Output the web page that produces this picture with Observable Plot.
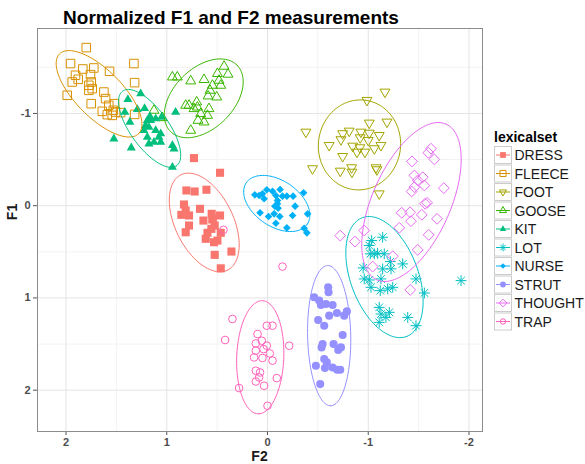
<!DOCTYPE html>
<html><head><meta charset="utf-8">
<script src="https://cdn.jsdelivr.net/npm/d3@7"></script>
<script src="https://cdn.jsdelivr.net/npm/@observablehq/plot@0.6"></script>
<style>
body{margin:0;background:#fff;}
svg{font-family:"Liberation Sans",Arial,sans-serif;}
</style></head><body><div id="chart"></div>
<script>
// ---- data ----
const sets = ["DRESS","FLEECE","FOOT","GOOSE","KIT","LOT","NURSE","STRUT","THOUGHT","TRAP"];
const colors = ["#F8766D","#D89000","#A3A500","#39B600","#00BF7D","#00BFC4","#00B0F6","#9590FF","#E76BF3","#FF62BC"];
const shapes = ["squareFilled","squareOpen","triangleDownOpen","triangleOpen","triangleFilled","asterisk","diamondFilled","circleFilled","diamondOpen","circleOpen"];
const xTicks = [2,1,0,-1,-2];
const xTickLabels = ["2","1","0","-1","-2"];
const yTicks = [-1,0,1,2];
const yTickLabels = ["-1","0","1","2"];
const xMinor = [1.5,0.5,-0.5,-1.5];
const yMinor = [-1.5,-0.5,0.5,1.5];

// [F2, F1]
const dress = [[0.730,-0.516],[0.471,-0.357],[0.805,-0.165],[0.723,-0.154],[0.606,-0.173],[0.829,-0.013],[0.812,0.052],[0.855,0.099],[0.779,0.106],[0.670,0.034],[0.554,0.088],[0.471,0.106],[0.636,0.161],[0.547,0.150],[0.524,0.215],[0.779,0.215],[0.812,0.288],[0.596,0.294],[0.557,0.251],[0.464,0.294],[0.613,0.359],[0.531,0.396],[0.497,0.378],[0.524,0.533],[0.358,0.497],[0.464,0.679],[0.544,0.139]];
const fleece = [[1.799,-1.714],[1.955,-1.541],[1.326,-1.541],[1.833,-1.482],[1.724,-1.493],[1.906,-1.414],[1.879,-1.370],[1.938,-1.341],[1.757,-1.421],[1.568,-1.457],[1.750,-1.341],[1.773,-1.305],[1.740,-1.269],[1.773,-1.251],[1.319,-1.334],[1.988,-1.197],[1.624,-1.232],[1.607,-1.161],[1.750,-1.106],[1.518,-1.106],[1.575,-1.088],[1.640,-1.023],[1.590,-0.987],[1.541,-0.979],[1.508,-1.015],[1.458,-1.009],[1.319,-0.990],[1.531,-1.034]];
const foot = [[-1.166,-1.232],[-0.987,-1.142],[-1.010,-0.896],[-1.186,-0.907],[-0.381,-0.798],[-0.746,-0.781],[-0.811,-0.809],[-0.927,-0.798],[-1.010,-0.787],[-1.109,-0.762],[-0.729,-0.716],[-0.920,-0.737],[-1.000,-0.708],[-0.612,-0.654],[-0.845,-0.646],[-0.917,-0.629],[-1.126,-0.654],[-1.060,-0.618],[-0.888,-0.581],[-0.967,-0.581],[-0.746,-0.534],[-0.447,-0.401],[-0.722,-0.375],[-0.835,-0.412],[-0.838,-0.364],[-1.077,-0.412],[-1.086,-0.390],[-1.109,-0.129]];
const goose = [[0.944,-1.395],[0.895,-1.395],[0.762,-1.352],[0.630,-1.367],[0.431,-1.511],[0.497,-1.432],[0.392,-1.425],[0.481,-1.359],[0.464,-1.305],[0.547,-1.305],[0.571,-1.251],[0.590,-1.189],[0.504,-1.178],[0.812,-1.088],[0.779,-1.088],[0.703,-1.124],[0.696,-1.069],[0.730,-1.052],[0.581,-1.052],[0.663,-0.998],[0.596,-0.979],[0.690,-0.925],[0.630,-0.907],[0.762,-0.817],[1.127,-1.034],[1.044,-0.954]];
const kit = [[1.259,-1.215],[1.386,-1.153],[1.292,-1.045],[1.416,-1.015],[1.220,-1.055],[1.167,-0.969],[1.193,-0.925],[1.366,-0.907],[1.110,-0.944],[1.210,-0.871],[1.177,-0.852],[1.227,-0.817],[1.110,-0.817],[1.060,-0.781],[1.078,-0.744],[1.193,-0.744],[1.060,-0.689],[1.177,-0.672],[1.127,-0.689],[0.912,-1.015],[0.944,-0.654],[0.928,-0.618],[1.525,-0.726],[1.352,-0.629],[0.944,-0.418],[1.051,-0.961],[1.160,-0.925]];
const lot = [[-1.143,0.342],[-1.034,0.378],[-1.010,0.432],[-1.020,0.522],[-1.060,0.522],[-1.093,0.516],[-1.159,0.522],[-1.219,0.606],[-1.342,0.631],[-0.950,0.674],[-1.143,0.685],[-1.226,0.685],[-0.960,0.794],[-1.010,0.805],[-1.126,0.794],[-1.027,0.885],[-1.119,0.921],[-1.193,0.902],[-1.243,0.885],[-1.474,0.794],[-1.557,0.946],[-1.921,0.812],[-1.109,1.102],[-1.126,1.174],[-1.209,1.156],[-1.176,1.211],[-1.109,1.265],[-1.392,1.211],[-1.474,1.301]];
const nurse = [[0.126,-0.118],[0.083,-0.111],[0.050,-0.129],[0.007,-0.173],[-0.050,-0.157],[-0.125,-0.176],[-0.083,-0.111],[-0.099,-0.056],[-0.149,-0.103],[-0.192,-0.103],[-0.254,-0.103],[-0.358,-0.140],[0.034,-0.075],[-0.073,0.005],[-0.105,0.027],[-0.274,0.005],[0.074,0.077],[-0.010,0.117],[-0.066,0.088],[-0.122,0.117],[-0.249,0.106],[-0.398,0.088],[-0.083,0.190],[-0.192,0.240],[-0.364,0.244],[-0.391,0.294],[-0.099,-0.021]];
const strut = [[-0.602,0.885],[-0.606,0.939],[-0.463,0.993],[-0.513,1.029],[-0.530,1.076],[-0.580,1.065],[-0.646,1.076],[-0.788,1.146],[-0.689,1.163],[-0.761,1.192],[-0.612,1.192],[-0.503,1.239],[-0.563,1.301],[-0.746,1.402],[-0.547,1.499],[-0.537,1.536],[-0.656,1.499],[-0.729,1.536],[-0.702,1.565],[-0.563,1.662],[-0.589,1.699],[-0.480,1.735],[-0.570,1.760],[-0.646,1.754],[-0.692,1.779],[-0.722,1.779],[-0.523,1.934]];
const thought = [[-1.623,-0.618],[-1.596,-0.574],[-1.656,-0.502],[-1.434,-0.480],[-1.458,-0.328],[-1.541,-0.309],[-1.491,-0.274],[-1.557,-0.219],[-1.458,-0.201],[-1.431,-0.154],[-1.750,-0.190],[-1.564,-0.021],[-1.584,-0.031],[-1.332,0.077],[-1.415,0.071],[-1.531,0.099],[-1.683,0.142],[-1.424,0.168],[-1.308,0.240],[-0.960,0.269],[-0.868,0.389],[-0.722,0.324],[-1.600,0.316],[-1.491,0.479],[-1.243,0.548],[-1.044,0.660],[-1.417,0.913]];
const trap = [[-0.149,0.660],[0.348,1.228],[0.007,1.301],[-0.050,1.301],[0.099,1.391],[0.421,1.456],[0.057,1.464],[0.116,1.493],[0.007,1.518],[-0.215,1.518],[0.040,1.554],[0.116,1.572],[-0.023,1.602],[0.133,1.645],[0.050,1.651],[-0.050,1.680],[0.116,1.789],[0.074,1.808],[0.083,1.862],[0.116,1.906],[-0.092,1.869],[0.034,1.952],[0.282,1.977],[0.000,2.169],[0.437,0.262]];
const points = [dress,fleece,foot,goose,kit,lot,nurse,strut,thought,trap];

// 95% ellipse per set: centre and two semi-axis vectors (F2, F1 units)
const ellCx = [0.628,1.672,-0.913,0.633,1.170,-1.161,-0.092,-0.612,-1.429,0.072];
const ellCy = [0.182,-1.213,-0.659,-1.164,-0.838,0.774,-0.024,1.409,-0.040,1.643];
const ellUx = [-0.231,-0.392,-0.060,-0.330,-0.268,-0.219,-0.303,-0.015,-0.344,0.015];
const ellUy = [0.517,0.433,-0.484,-0.360,0.404,0.644,0.224,0.760,-0.844,0.613];
const ellVx = [-0.259,-0.166,-0.404,-0.211,-0.153,-0.315,-0.127,-0.214,-0.354,-0.234];
const ellVy = [-0.138,-0.179,0.060,0.230,-0.122,-0.128,-0.206,-0.005,0.173,-0.007];

// ---- symbols ----
const mk = f => ({draw(ctx, size){ const r = Math.sqrt(size/Math.PI); f(ctx, r); }});
const poly = (ctx, pts) => { ctx.moveTo(pts[0][0], pts[0][1]); for (let k=1;k<pts.length;k++) ctx.lineTo(pts[k][0], pts[k][1]); ctx.closePath(); };
const symbols = {
  squareFilled: mk((c,r)=>c.rect(-0.9*r,-0.9*r,1.8*r,1.8*r)),
  squareOpen: mk((c,r)=>c.rect(-0.95*r,-0.95*r,1.9*r,1.9*r)),
  triangleDownOpen: mk((c,r)=>poly(c,[[-1.1*r,-0.65*r],[1.1*r,-0.65*r],[0,1.25*r]])),
  triangleOpen: mk((c,r)=>poly(c,[[0,-1.25*r],[1.1*r,0.65*r],[-1.1*r,0.65*r]])),
  triangleFilled: mk((c,r)=>poly(c,[[0,-1.15*r],[1.0*r,0.6*r],[-1.0*r,0.6*r]])),
  asterisk: mk((c,r)=>{const a=1.2*r,b=0.85*r; c.moveTo(-a,0);c.lineTo(a,0);c.moveTo(0,-a);c.lineTo(0,a);c.moveTo(-b,-b);c.lineTo(b,b);c.moveTo(-b,b);c.lineTo(b,-b);}),
  diamondFilled: mk((c,r)=>poly(c,[[0,-0.85*r],[0.85*r,0],[0,0.85*r],[-0.85*r,0]])),
  circleFilled: mk((c,r)=>{c.moveTo(0.9*r,0);c.arc(0,0,0.9*r,0,2*Math.PI);}),
  diamondOpen: mk((c,r)=>poly(c,[[0,-1.2*r],[1.2*r,0],[0,1.2*r],[-1.2*r,0]])),
  circleOpen: mk((c,r)=>{c.moveTo(0.85*r,0);c.arc(0,0,0.85*r,0,2*Math.PI);})
};
const filledShape = s => s.endsWith("Filled");

function ellipsePts(i){
  const n = 120;
  return d3.range(n+1).map(k => {
    const t = 2*Math.PI*k/n;
    return {f2: ellCx[i] + Math.cos(t)*ellUx[i] + Math.sin(t)*ellVx[i],
            f1: ellCy[i] + Math.cos(t)*ellUy[i] + Math.sin(t)*ellVy[i]};
  });
}

const W = 585, H = 464, mL = 37, mR = 103, mT = 28, mB = 33;
const marks = [
  Plot.ruleX(xMinor, {stroke:"#f3f3f3", strokeWidth:1}),
  Plot.ruleY(yMinor, {stroke:"#f3f3f3", strokeWidth:1}),
  Plot.ruleX(xTicks, {stroke:"#e4e4e4", strokeWidth:1}),
  Plot.ruleY(yTicks, {stroke:"#e4e4e4", strokeWidth:1})
];
sets.forEach((s,i) => {
  const pts = points[i].map(([f2,f1]) => ({f2, f1}));
  const filled = filledShape(shapes[i]);
  marks.push(Plot.dot(pts, {x:"f2", y:"f1", r:4.5, symbol: symbols[shapes[i]],
    fill: filled ? colors[i] : "none", stroke: filled ? "none" : colors[i], strokeWidth: 1}));
});
sets.forEach((s,i) => {
  marks.push(Plot.line(ellipsePts(i), {x:"f2", y:"f1", stroke: colors[i], strokeWidth: 1}));
});
marks.push(Plot.frame({stroke:"#8c8c8c", strokeWidth:1}));

const chart = Plot.plot({
  width: W, height: H,
  marginLeft: mL, marginRight: mR, marginTop: mT, marginBottom: mB,
  style: {fontSize: "11px", background: "#fff", overflow: "visible"},
  x: {domain: [2.283, -2.134], ticks: xTicks, tickFormat: d => xTickLabels[xTicks.indexOf(d)], tickSize: 4, tickPadding: 3, label: null},
  y: {domain: [2.448, -1.921], ticks: yTicks, tickFormat: d => yTickLabels[yTicks.indexOf(d)], tickSize: 4, tickPadding: 3, label: null},
  marks
});
document.getElementById("chart").appendChild(chart);

const svg = d3.select(chart.tagName.toLowerCase() === "svg" ? chart : chart.querySelector("svg"));
svg.selectAll('g[aria-label="x-axis tick label"], g[aria-label="y-axis tick label"]').attr("fill","#4d4d4d").style("font-weight","bold");
svg.selectAll('g[aria-label="x-axis tick"], g[aria-label="y-axis tick"]').attr("stroke","#555");

const FONT = '"Liberation Sans",Arial,sans-serif';
// title
svg.append("text").attr("x", 231).attr("y", 24).attr("text-anchor","middle")
  .style("font-family", FONT).style("font-size","19px").style("font-weight","bold").attr("fill","#000")
  .text("Normalized F1 and F2 measurements");
// axis titles
svg.append("text").attr("x", (mL + W - mR)/2).attr("y", 461).attr("text-anchor","middle")
  .style("font-family", FONT).style("font-size","14px").style("font-weight","bold").attr("fill","#1a1a1a").text("F2");
svg.append("text").attr("transform", "translate(17,212) rotate(-90)").attr("text-anchor","middle")
  .style("font-family", FONT).style("font-size","14px").style("font-weight","bold").attr("fill","#1a1a1a").text("F1");

// legend
const lg = svg.append("g").attr("text-anchor","start");
lg.append("text").attr("x", 494).attr("y", 141.5).attr("text-anchor","start").style("font-family", FONT).style("font-size","14px").style("font-weight","bold").attr("fill","#000").text("lexicalset");
sets.forEach((s,i) => {
  const cy = 155 + i*18.5;
  lg.append("rect").attr("x", 494.5).attr("y", cy - 8.5).attr("width", 17).attr("height", 17).attr("fill","#fff").attr("stroke","#cccccc").attr("stroke-width",1);
  lg.append("line").attr("x1", 496).attr("x2", 510).attr("y1", cy).attr("y2", cy).attr("stroke", colors[i]).attr("stroke-width",1);
  const p = d3.path();
  symbols[shapes[i]].draw(p, Math.PI*3.2*3.2);
  const filled = filledShape(shapes[i]);
  lg.append("path").attr("transform", `translate(503,${cy})`).attr("d", p.toString())
    .attr("fill", filled ? colors[i] : "none").attr("stroke", filled ? "none" : colors[i]).attr("stroke-width",1);
  lg.append("text").attr("x", 514.5).attr("y", cy + 5).attr("text-anchor","start").style("font-family", FONT).style("font-size","14px").attr("fill","#1a1a1a").text(s);
});
</script></body></html>
